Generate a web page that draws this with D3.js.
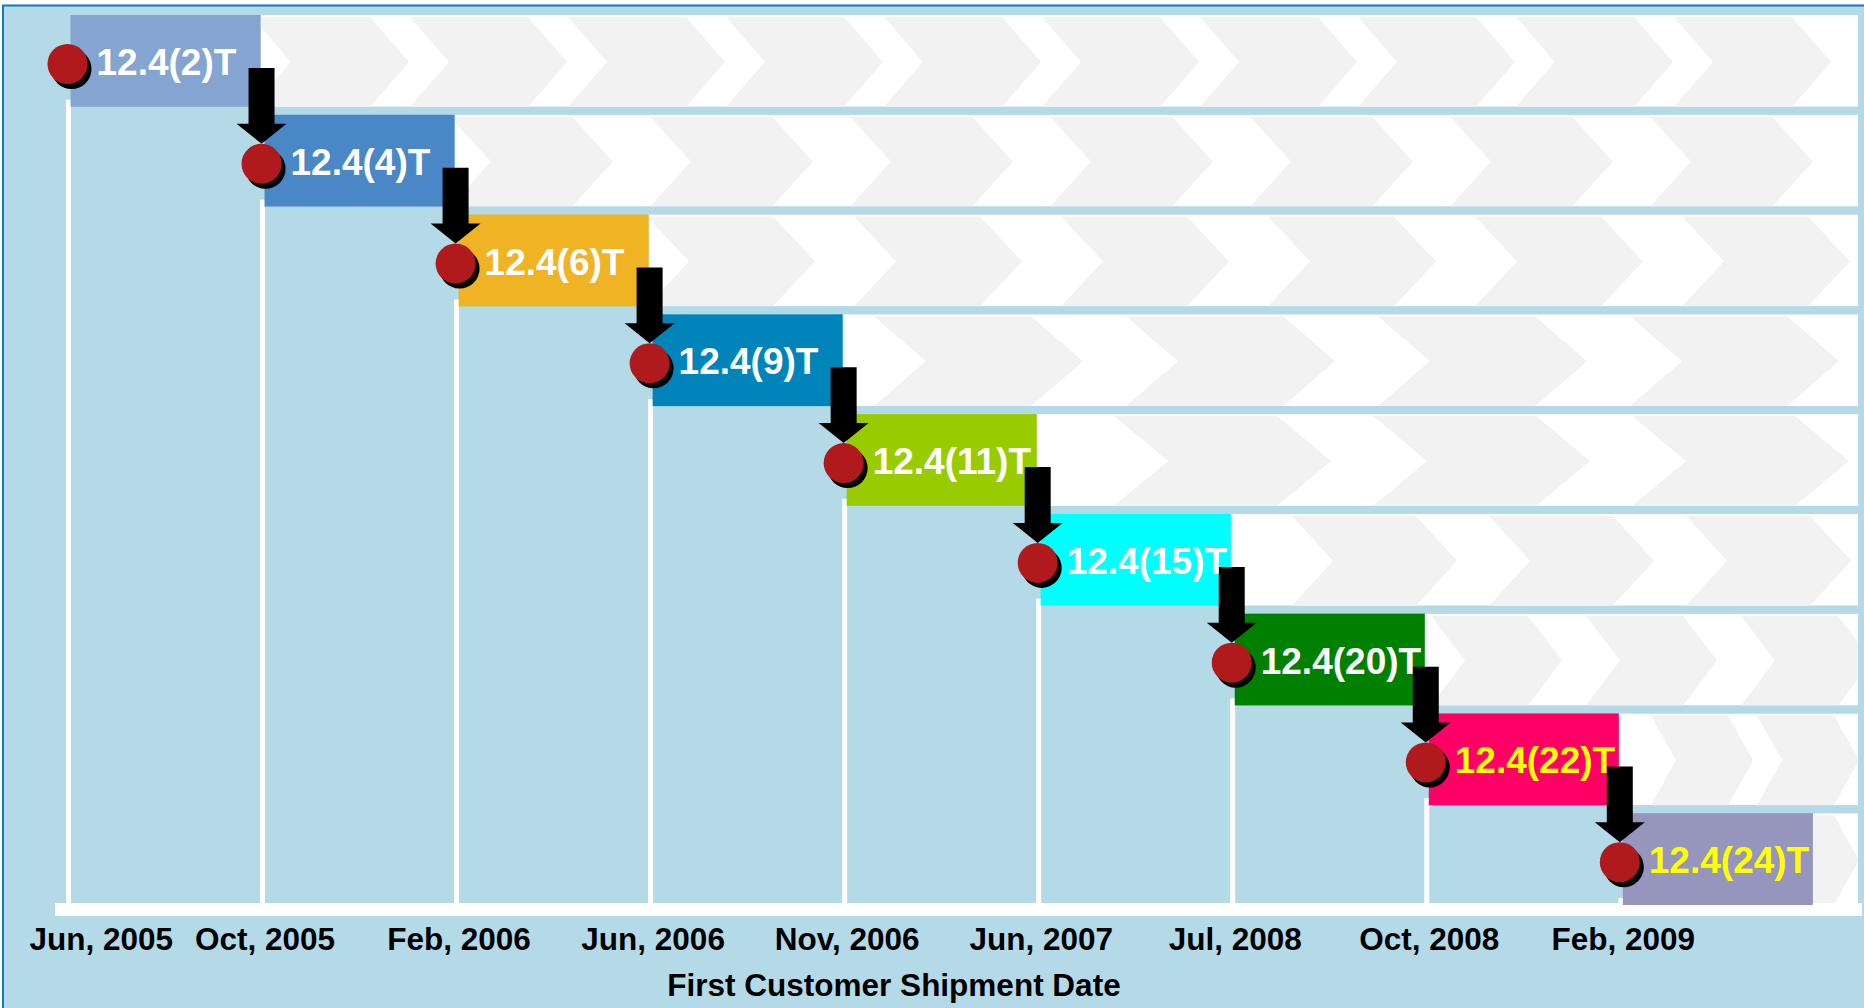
<!DOCTYPE html>
<html>
<head>
<meta charset="utf-8">
<script src="https://cdn.jsdelivr.net/npm/d3@7"></script>
<style>
  body { margin: 0; background: #fff; }
  svg { display: block; font-family: "Liberation Sans", Arial, sans-serif; }
</style>
</head>
<body>
<div id="chart"></div>
<script>
// IOS releases, one row each, and their first customer shipment dates
const releases = ["12.4(2)T", "12.4(4)T", "12.4(6)T", "12.4(9)T", "12.4(11)T", "12.4(15)T", "12.4(20)T", "12.4(22)T", "12.4(24)T"];
const shipDates = ["Jun, 2005", "Oct, 2005", "Feb, 2006", "Jun, 2006", "Nov, 2006", "Jun, 2007", "Jul, 2008", "Oct, 2008", "Feb, 2009"];
const axisTitle = "First Customer Shipment Date";

// styles
const boxColors = ["#84a4d2", "#4a87c6", "#f0b323", "#0084ba", "#99cc00", "#00ffff", "#008000", "#ff0066", "#9595bd"];
const labelColors = ["#fff", "#fff", "#fff", "#fff", "#fff", "#fff", "#fff", "#ffff00", "#ffff00"];
// decoration: chevron pattern in each row's strip [pitch, width, depth, last right edge]
const chevrons = [
  [158, 118, 39, 1792], [200, 122, 41, 1772], [207, 126, 42, 1808],
  [252, 157, 52, 1787], [259, 163, 54, 1795], [197, 124, 41, 1810],
  [155, 97, 34, 1838], [106, 77, 25, 1834], [106, 77, 25, 1834]
];

const W = 1864, H = 1008;
const stripEnd = 1858;
const axisY = 903;

const svg = d3.select("#chart").append("svg")
    .attr("width", W)
    .attr("height", H);

// background + frame
svg.append("rect").attr("width", W).attr("height", H).attr("fill", "#fff");
svg.append("rect")
    .attr("x", 3).attr("y", 5.5)
    .attr("width", W + 10).attr("height", H + 10)
    .attr("fill", "#b4dae8")
    .attr("stroke", "#0a80c0")
    .attr("stroke-width", 2);

// scales
const x = d3.scalePoint().domain(shipDates).range([70.5, 1622.8]);
const step = x.step();
const y = d3.scaleBand().domain(releases).range([15, 905]).paddingInner(0.08);
const bh = y.bandwidth();

const rows = releases.map((r, i) => {
    const x0 = x(shipDates[i]);
    const x1 = (i < releases.length - 1 ? x(shipDates[i + 1]) : x0 + step) - 4;
    return {name: r, date: shipDates[i], i: i, x0: x0, x1: x1, top: y(r),
            cx: x0 - 3, cy: y(r) + 49};
});

const defs = svg.append("defs");

// white strips with grey chevrons
rows.forEach(d => {
    const [pitch, cw, depth, last] = chevrons[d.i];
    defs.append("clipPath").attr("id", "clip" + d.i)
        .append("rect")
        .attr("x", d.x1).attr("y", d.top)
        .attr("width", stripEnd - d.x1).attr("height", bh);

    const g = svg.append("g").attr("clip-path", `url(#clip${d.i})`);
    g.append("rect")
        .attr("x", d.x1).attr("y", d.top)
        .attr("width", stripEnd - d.x1).attr("height", bh)
        .attr("fill", "#fff");

    const rights = [];
    for (let r = last; r - d.x1 > 20; r -= pitch) rights.push(r);
    const t = d.top + 2, b = d.top + bh, m = (t + b) / 2;
    g.selectAll("polygon")
        .data(rights)
        .join("polygon")
        .attr("points", r => [[r - cw, t], [r, t], [r + depth, m], [r, b], [r - cw, b], [r - cw + depth, m]].join(" "))
        .attr("fill", "#f2f2f2");
});

// white column lines down to the axis
svg.selectAll(".col-line")
    .data(rows)
    .join("rect")
    .attr("class", "col-line")
    .attr("x", d => d.x0 - 4.5)
    .attr("y", d => d.top + bh - 7)
    .attr("width", 5)
    .attr("height", d => axisY - (d.top + bh - 7))
    .attr("fill", "#fff");

// axis base line
svg.append("rect")
    .attr("x", 55).attr("y", axisY)
    .attr("width", stripEnd + 4 - 55).attr("height", 13)
    .attr("fill", "#fff");

// coloured release boxes
svg.selectAll(".box")
    .data(rows)
    .join("rect")
    .attr("class", "box")
    .attr("x", d => d.x0)
    .attr("y", d => d.top)
    .attr("width", d => d.x1 - d.x0)
    .attr("height", bh)
    .attr("fill", d => boxColors[d.i]);

// arrows from one release to the next
svg.selectAll(".arrow")
    .data(rows.slice(0, -1))
    .join("path")
    .attr("class", "arrow")
    .attr("d", d => {
        const n = rows[d.i + 1];
        const ax = n.cx, y0 = d.cy + 4, tip = n.cy - 20;
        return `M${ax - 13},${y0}H${ax + 13}V${tip - 20}H${ax + 25}L${ax},${tip}L${ax - 25},${tip - 20}H${ax - 13}Z`;
    })
    .attr("fill", "#000");

// dots with shadow
svg.selectAll(".shadow")
    .data(rows)
    .join("circle")
    .attr("class", "shadow")
    .attr("cx", d => d.cx + 4)
    .attr("cy", d => d.cy + 5)
    .attr("r", 20)
    .attr("fill", "#000");

svg.selectAll(".dot")
    .data(rows)
    .join("circle")
    .attr("class", "dot")
    .attr("cx", d => d.cx)
    .attr("cy", d => d.cy)
    .attr("r", 20)
    .attr("fill", "#b01a1c");

// release labels
svg.selectAll(".label")
    .data(rows)
    .join("text")
    .attr("class", "label")
    .attr("x", d => d.cx + 29)
    .attr("y", d => d.top + 60)
    .attr("font-size", 37)
    .attr("font-weight", "bold")
    .attr("fill", d => labelColors[d.i])
    .text(d => d.name);

// x axis labels
const xAxis = d3.axisBottom(x).tickSize(0).tickPadding(0);
const ax = svg.append("g")
    .attr("transform", `translate(0,928)`)
    .call(xAxis);
ax.select(".domain").remove();
ax.selectAll("text")
    .attr("font-family", "Liberation Sans, Arial, sans-serif")
    .attr("font-size", 31.5)
    .attr("font-weight", "bold")
    .attr("fill", "#000")
    .each(function(d) {
        const w = this.getComputedTextLength();
        const left = x(d) - w / 2;
        if (left < 29) d3.select(this).attr("dx", 29 - left);
    });

svg.append("text")
    .attr("x", 894)
    .attr("y", 996)
    .attr("text-anchor", "middle")
    .attr("font-size", 31.5)
    .attr("font-weight", "bold")
    .attr("fill", "#000")
    .text(axisTitle);
</script>
</body>
</html>
